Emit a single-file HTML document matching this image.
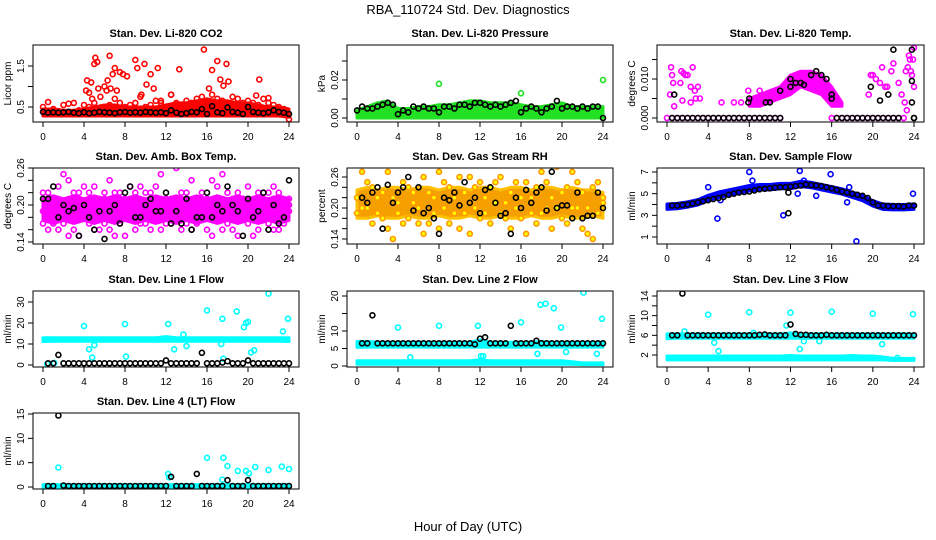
<!DOCTYPE html>
<html><head><meta charset="utf-8"><style>
html,body{margin:0;padding:0;background:#fff;width:936px;height:540px;overflow:hidden}
svg text{font-family:"Liberation Sans",Arial,sans-serif}
</style></head><body>
<svg id="c" width="936" height="540" viewBox="0 0 936 540" xmlns="http://www.w3.org/2000/svg">
<text x="468" y="14" text-anchor="middle" font-size="13">RBA_110724  Std. Dev. Diagnostics</text>
<text x="468" y="531" text-anchor="middle" font-size="13">Hour of Day (UTC)</text>
</svg>
<script>
const N=null;
const xTicks=[0,4,8,12,16,20,24];
// CO2
const co2BandLo=[0.28,0.28,0.28,0.28,0.28,0.28,0.28,0.28,0.28,0.28,0.28,0.28,0.28,0.28,0.28,0.28,0.28,0.28,0.28,0.28,0.28,0.28,0.28,0.28,0.25];
const co2BandHi=[0.45,0.45,0.42,0.42,0.45,0.5,0.55,0.55,0.5,0.5,0.5,0.5,0.55,0.6,0.6,0.65,0.7,0.65,0.65,0.6,0.6,0.55,0.5,0.5,0.45];
const co2Red=[0.5,0.62,0.45,0.4,0.55,0.58,0.6,0.42,0.55,0.5,0.6,0.45,0.5,0.55,0.7,0.6,0.5,0.55,0.6,0.75,0.5,0.55,0.65,0.6,0.5,0.8,0.6,0.55,0.65,0.6,0.7,0.75,0.65,0.8,0.7,0.65,0.6,0.75,0.7,0.6,0.65,0.6,0.55,0.7,0.6,0.55,0.5,0.45,0.2];
const co2OutX=[4.2,4.3,4.5,4.7,4.8,5.0,5.1,5.3,5.4,5.6,6.0,6.2,6.3,6.5,6.6,6.8,7.0,7.2,7.5,7.8,8.2,9.0,9.2,9.6,9.9,10.1,10.5,10.8,11.2,11.5,12.5,13.3,15.7,16.2,16.5,17.0,17.3,17.6,17.9,18.1,21.1,20.8,22.0];
const co2OutY=[0.9,1.15,0.85,1.1,0.7,1.55,1.7,1.6,0.95,0.75,1.0,0.9,1.15,1.75,0.95,1.3,1.45,0.9,1.35,1.3,1.25,1.65,1.45,0.8,1.55,1.05,1.3,0.95,1.45,0.65,0.8,1.42,1.9,0.95,1.4,1.62,1.17,1.02,1.55,1.12,1.17,0.78,0.72];
const co2Black=[0.38,0.36,0.37,0.36,0.37,0.38,0.36,0.35,0.37,0.35,0.36,0.38,0.37,0.36,0.35,0.37,0.38,0.36,0.37,0.36,0.38,0.37,0.36,0.37,0.35,0.42,0.36,0.33,0.35,0.38,0.37,0.45,0.33,0.52,0.37,0.35,0.49,0.38,0.36,0.33,0.5,0.38,0.36,0.35,0.37,0.42,0.38,0.36,0.33];
// Pressure
const presBandLo=[0,0,0,0,0,0,0,0,0,0,0,0,0,0,0,0,0,0,0,0,0,0,0,0,0];
const presBandHi=[0.004,0.006,0.008,0.009,0.005,0.005,0.006,0.006,0.007,0.007,0.008,0.009,0.009,0.008,0.008,0.008,0.007,0.006,0.006,0.007,0.008,0.006,0.006,0.006,0.006];
const presOutX=[8.2,8.0,16.0,24.0];
const presOutY=[0.042,0.018,0.013,0.020];
const presBlack=[0.004,0.006,0.005,0.005,0.006,0.007,0.008,0.007,0.002,0.004,0.003,0.006,0.005,0.006,0.005,0.005,0.003,0.006,0.006,0.005,0.007,0.007,0.006,0.008,0.008,0.007,0.006,0.007,0.006,0.007,0.008,0.009,0.003,0.005,0.006,0.005,0.003,0.005,0.006,0.009,0.005,0.006,0.006,0.005,0.006,0.005,0.006,0.006,0.000];
// Li-820 temp
const tmpZero=[0,0,0,0,0,0,0,0,0,0,0,0,0,0,0,0,0,0,0,0,0,0,0,N,N,N,N,N,N,N,N,N,0,0,0,0,0,0,0,0,0,0,0,0,0,0,0,N,N];
const tmpHumpLo=[N,N,N,N,N,N,N,N,0.003,0.003,0.004,0.005,0.006,0.008,0.007,0.006,0.003,0.003,N,N,N,N,N,N,N];
const tmpHumpHi=[N,N,N,N,N,N,N,N,0.005,0.006,0.007,0.008,0.011,0.012,0.012,0.011,0.008,0.004,N,N,N,N,N,N,N];
const tmpMagX=[0.3,0.4,0.5,0.6,0.7,1.3,1.4,1.6,1.8,2.0,2.3,2.5,2.7,2.8,3.0,3.2,2.3,1.5,5.3,6.5,7.2,7.9,9.0,19.6,19.8,20.0,20.3,20.7,20.9,21.2,21.4,21.8,22.0,22.5,22.8,23.1,23.3,23.4,23.5,23.6,23.7,23.8,23.9,24.0,24.0,23.2];
const tmpMagY=[0.006,0.013,0.011,0.009,0.003,0.009,0.012,0.0115,0.011,0.011,0.008,0.013,0.007,0.005,0.008,0.005,0.004,0.0045,0.004,0.004,0.004,0.007,0.007,0.006,0.011,0.011,0.01,0.009,0.013,0.008,0.008,0.012,0.014,0.009,0.006,0.004,0.002,0.013,0.016,0.015,0.012,0.011,0.015,0.018,0.008,0.012];
const tmpBlkX=[0.7,8.0,7.9,9.6,10.0,11.0,12.0,12.0,12.5,13.0,13.3,14.0,14.5,15.0,15.5,16.0,16.0,19.8,20.7,21.5,22.0,23.8,23.8,23.8,24];
const tmpBlkY=[0.006,0.005,0.004,0.004,0.004,0.007,0.008,0.010,0.009,0.009,0.0085,0.011,0.012,0.011,0.010,0.006,0.005,0.008,0.0045,0.006,0.0175,0.0175,0.0095,0.004,0];
const tmpBlkZero=[N,0,0,0,0,0,0,0,0,0,0,0,0,0,0,0,0,0,0,0,0,0,0,N,N,N,N,N,N,N,N,N,N,0,0,0,0,0,0,0,0,0,0,0,0,0,N,N,0];
// Amb box temp
const ambA=[0.19,0.22,0.18,0.23,0.17,0.24,0.16,0.21,0.2,0.17,0.23,0.16,0.22,0.19,0.18,0.22,0.15,0.21,0.2,0.23,0.17,0.22,0.19,0.25,0.17,0.21,0.2,0.16,0.22,0.24,0.19,0.18,0.21,0.2,0.23,0.16,0.22,0.19,0.18,0.21,0.17,0.2,0.22,0.18,0.19,0.23,0.16,0.2,0.19];
const ambB=[0.17,0.16,0.21,0.19,0.25,0.18,0.22,0.15,0.23,0.2,0.19,0.21,0.17,0.24,0.15,0.2,0.18,0.23,0.16,0.19,0.22,0.16,0.2,0.21,0.18,0.19,0.26,0.2,0.17,0.18,0.21,0.22,0.16,0.24,0.19,0.25,0.17,0.21,0.15,0.2,0.23,0.19,0.16,0.22,0.17,0.21,0.2,0.18,0.2];
const ambC=[0.22,0.2,0.17,0.16,0.2,0.15,0.19,0.22,0.18,0.22,0.16,0.2,0.21,0.16,0.22,0.17,0.21,0.19,0.22,0.17,0.2,0.18,0.23,0.16,0.21,0.17,0.19,0.22,0.2,0.16,0.17,0.2,0.19,0.15,0.21,0.2,0.18,0.16,0.22,0.18,0.2,0.15,0.21,0.19,0.22,0.16,0.22,0.17,0.21];
const ambBandLo=[0.175,0.17,0.175,0.17,0.175,0.17,0.175,0.17,0.175,0.17,0.175,0.17,0.175,0.17,0.175,0.17,0.175,0.17,0.175,0.17,0.175,0.17,0.175,0.17,0.175];
const ambBandHi=[0.21,0.215,0.21,0.215,0.21,0.215,0.21,0.215,0.21,0.215,0.21,0.215,0.21,0.215,0.21,0.215,0.21,0.215,0.21,0.215,0.21,0.215,0.21,0.215,0.21];
const ambBlack=[0.21,0.21,0.23,0.18,0.2,0.19,0.195,0.15,0.2,0.18,0.16,0.19,0.145,0.19,0.2,0.17,0.22,0.23,0.18,0.18,0.2,0.21,0.19,0.19,0.22,0.17,0.19,0.17,0.21,0.16,0.18,0.18,0.22,0.18,0.2,0.19,0.23,0.2,0.19,0.15,0.21,0.18,0.19,0.22,0.16,0.2,0.17,0.18,0.24];
// RH
const rhBandLo=[0.18,0.18,0.185,0.18,0.18,0.185,0.18,0.18,0.185,0.18,0.18,0.185,0.18,0.18,0.185,0.18,0.18,0.185,0.18,0.18,0.185,0.18,0.18,0.185,0.18];
const rhBandHi=[0.235,0.24,0.235,0.24,0.24,0.235,0.24,0.24,0.235,0.24,0.24,0.235,0.24,0.24,0.235,0.24,0.24,0.235,0.24,0.24,0.235,0.24,0.235,0.235,0.23];
const rhA=[0.22,0.27,0.2,0.24,0.19,0.23,0.27,0.14,0.21,0.25,0.18,0.23,0.2,0.26,0.17,0.22,0.27,0.2,0.24,0.19,0.16,0.23,0.26,0.2,0.25,0.19,0.24,0.21,0.26,0.18,0.23,0.2,0.22,0.25,0.19,0.24,0.27,0.2,0.22,0.28,0.18,0.24,0.27,0.2,0.23,0.15,0.24,0.19,0.22];
const rhB=[0.19,0.2,0.25,0.17,0.22,0.18,0.16,0.22,0.19,0.17,0.24,0.21,0.17,0.15,0.23,0.19,0.16,0.25,0.17,0.22,0.26,0.19,0.15,0.24,0.18,0.22,0.17,0.25,0.19,0.21,0.16,0.25,0.18,0.15,0.22,0.17,0.19,0.25,0.16,0.2,0.23,0.17,0.2,0.25,0.16,0.2,0.14,0.25,0.21];
const rhBlack=[N,0.22,0.21,0.23,0.24,0.16,0.245,0.21,0.23,0.24,0.26,0.195,0.24,0.19,0.2,0.18,0.15,0.22,0.215,0.23,0.205,0.25,0.21,0.22,0.19,0.235,0.24,0.21,0.185,0.19,0.15,0.22,0.2,0.235,0.21,0.23,0.24,0.195,0.27,0.2,0.205,0.205,0.18,0.23,0.18,0.185,0.185,0.23,0.2];
// Sample flow
const flowBandLo=[3.55,3.6,3.75,3.95,4.35,4.65,4.85,5.05,5.25,5.35,5.35,5.45,5.45,5.65,5.55,5.35,5.15,4.95,4.65,4.35,3.85,3.55,3.5,3.5,3.55];
const flowBandHi=[4.05,4.1,4.25,4.45,4.85,5.15,5.35,5.55,5.75,5.85,5.85,5.95,5.95,6.15,6.05,5.85,5.65,5.45,5.15,4.85,4.35,4.05,4.0,4.0,4.05];
const flowOutX=[4.0,4.9,8.0,8.3,11.3,12.9,15.9,18.4,23.9,17.5,17.7,13.3,14.5,5.2,12.7];
const flowOutY=[5.6,2.7,7.0,6.2,3.0,7.1,6.8,0.6,5.0,4.2,5.6,6.2,4.8,4.4,5.0];
const flowBlack=[N,3.9,3.9,3.95,4.0,4.1,4.2,4.3,4.4,4.5,4.6,4.7,4.9,5.0,5.1,5.15,5.2,5.3,5.4,5.45,5.5,5.55,5.6,5.6,5.65,5.7,5.75,5.85,5.8,5.75,5.7,5.6,5.5,5.35,5.2,5.1,5.0,4.9,4.8,4.6,4.2,3.9,3.9,3.85,3.85,3.85,3.8,3.9,3.9];
const flowBlkOutX=[11.8,11.8];
const flowBlkOutY=[3.2,5.1];
// Line 1
const l1BandLo=[11.2,11.3,11.3,11.3,11.3,11.3,11.3,11.3,11.3,11.3,11.3,11.3,11.3,11.3,11.3,11.3,11.3,11.3,11.3,11.3,11.3,11.3,11.3,11.3,11.2];
const l1BandHi=[13,13,13,13,13,13,13,13,13,13,13,13,13.5,13,13,13,13,13,13,13,13,13,13,13,13];
const l1OutX=[4.0,4.5,4.8,5.0,8.0,8.1,12.2,12.8,13.7,14.0,16.0,17.5,17.6,17.4,18.9,19.6,19.8,20.0,20.3,20.6,22.0,23.4,23.9,1.1,0.4];
const l1OutY=[18.5,7.5,3.5,9.5,19.5,4,19.5,7.5,14.5,9,26,22,3,10,25.5,18,20,20.5,6,7,34,16,22,1,0.5];
const l1Black=[N,0.8,0.8,4.8,0.8,0.8,0.8,0.8,0.8,0.8,0.8,0.8,0.8,0.8,0.8,0.8,0.8,0.8,0.8,0.8,0.8,0.8,0.8,0.8,2.2,0.8,0.8,0.8,0.8,0.8,0.8,5.8,0.8,0.8,0.8,1.2,1.8,0.8,0.8,0.8,2.2,0.8,0.8,0.8,0.8,0.8,0.8,0.8,0.8];
// Line 2
const l2BandLo=[5.3,5.4,5.4,5.4,5.4,5.4,5.4,5.4,5.4,5.4,5.4,5.4,5.4,5.4,5.4,5.4,5.4,5.4,5.4,5.4,5.4,5.4,5.4,5.4,5.4];
const l2BandHi=[7,7,6.8,6.8,6.8,6.8,6.8,6.8,6.8,6.8,6.8,6.8,7.5,6.8,6.8,6.8,6.8,6.8,7,6.8,6.8,6.8,6.8,6.8,6.8];
const l2LowLo=[0.5,0.5,0.5,0.5,0.5,0.5,0.5,0.5,0.5,0.5,0.5,0.5,0.5,0.5,0.5,0.5,0.5,0.5,0.5,0.5,0.5,0.5,0.4,0.4,0.4];
const l2LowHi=[1.5,1.5,1.5,1.5,1.5,1.5,1.5,1.5,1.5,1.5,1.5,1.5,1.8,1.5,1.5,1.5,1.5,1.5,1.5,1.5,1.5,1.2,0.9,0.9,0.9];
const l2OutX=[4.0,5.2,8.0,11.8,12.1,12.3,16.0,17.6,17.9,18.4,19.2,19.9,20.4,22.1,23.4,23.9,0.4];
const l2OutY=[11,2.5,11.5,11.5,2.8,2.8,12.5,3.5,17.5,17.8,16.5,11,4,21,3.5,13.5,6];
const l2Black=[N,6.5,6.5,14.5,6.5,6.5,6.5,6.5,6.5,6.5,6.5,6.5,6.5,6.5,6.5,6.5,6.5,6.5,6.5,6.5,6.5,6.5,6.5,6.2,7.8,8.2,6.5,6.5,6.5,6.5,11.5,6.5,6.5,6.5,6.5,7.2,6.5,6.5,6.5,6.5,6.5,6.5,6.5,6.5,6.5,6.5,6.5,6.5,6.5];
// Line 3
const l3BandLo=[5.3,5.4,5.4,5.4,5.4,5.4,5.4,5.4,5.4,5.4,5.4,5.4,5.4,5.4,5.4,5.4,5.4,5.4,5.4,5.4,5.4,5.4,5.4,5.4,5.4];
const l3BandHi=[6.3,6.3,6.3,6.3,6.3,6.3,6.3,6.3,6.3,6.3,6.3,6.3,6.5,6.3,6.3,6.3,6.3,6.3,6.3,6.3,6.3,6.3,6.3,6.3,6.3];
const l3LowLo=[1.0,1.0,1.0,1.0,1.0,1.0,1.0,1.0,1.0,1.0,1.0,1.0,1.0,1.0,1.0,1.0,1.0,1.0,1.0,1.0,1.0,1.0,0.9,0.9,0.9];
const l3LowHi=[1.8,1.8,1.8,1.8,1.8,1.8,1.8,1.8,1.8,1.8,1.8,1.8,1.9,1.8,1.8,1.8,1.8,1.8,1.9,1.8,1.8,1.6,1.3,1.3,1.3];
const l3OutX=[1.7,4.0,4.6,5.0,8.0,8.4,11.6,12.0,12.9,13.3,16.0,20.0,20.9,22.4,23.9,14.8];
const l3OutY=[6.8,10.2,4.5,2.8,10.7,6.5,8,10.6,3.2,4.8,10.8,10.4,4.2,1.4,10.3,4.8];
const l3Black=[N,6.0,6.0,14.5,6.0,6.0,6.0,6.0,6.0,6.0,6.0,6.0,6.0,6.0,6.0,6.0,6.0,6.0,6.1,6.2,6.0,6.0,6.0,6.0,8.2,6.3,6.1,6.1,6.0,6.0,6.0,6.1,6.0,6.0,6.0,6.0,6.0,6.0,6.0,6.0,6.0,6.0,6.0,6.0,6.0,6.0,6.0,6.0,6.0];
// Line 4
const l4BandLo=[-0.3,-0.3,-0.3,-0.3,-0.3,-0.3,-0.3,-0.3,-0.3,-0.3,-0.3,-0.3,-0.3,-0.3,-0.3,-0.3,-0.3,-0.3,-0.3,-0.3,-0.3,-0.3,-0.3,-0.3,-0.3];
const l4BandHi=[0.5,0.5,0.5,0.5,0.5,0.5,0.5,0.5,0.5,0.5,0.5,0.5,0.5,0.5,0.5,0.5,0.5,0.5,0.5,0.5,0.5,0.5,0.5,0.5,0.5];
const l4OutX=[1.5,12.2,12.3,16.0,17.6,17.5,18.0,19.0,19.8,20.1,20.7,22.0,23.3,24.0];
const l4OutY=[4,2.7,2,6,6,1.5,4.3,3.3,3.3,2.8,4.1,3.5,4.2,3.7];
const l4Black=[N,0.2,0.2,14.7,0.3,0.2,0.2,0.2,0.2,0.2,0.2,0.2,0.2,0.2,0.2,0.2,0.2,0.2,0.2,0.2,0.2,0.2,0.2,0.2,0.2,2.1,0.2,0.2,0.2,0.2,2.7,0.2,0.2,0.2,0.2,0.2,1.4,0.2,0.2,0.2,1.4,0.2,0.2,0.2,0.2,0.2,0.2,0.2,0.2];

const svg=document.getElementById('c');
const NS='http://www.w3.org/2000/svg';
function el(tag,attrs,parent){const e=document.createElementNS(NS,tag);for(const k in attrs)e.setAttribute(k,attrs[k]);(parent||svg).appendChild(e);return e;}

function panel(cfg){
  const g=el('g',{});
  
  
  const X=v=>cfg.x0+v*(cfg.x24-cfg.x0)/24;
  const Y=v=>cfg.p0+(v-cfg.v0)*(cfg.p1-cfg.p0)/(cfg.v1-cfg.v0);
  const left=cfg.x0-10,right=cfg.x24+10;
  const clip='cl'+cfg.name;
  const cp=el('clipPath',{id:clip},g);el('rect',{x:left,y:cfg.top,width:right-left,height:cfg.bot-cfg.top},cp);
  const data=el('g',{'clip-path':'url(#'+clip+')'},g);
  const gx=n=>i=>i*24/(n-1);
  cfg.series.forEach(s=>{
    if(s.lo){
      const n=s.lo.length,f=gx(n);let top=[],bot=[];
      const flush=()=>{if(top.length){const pts=top.concat(bot.reverse()).join(' ');
        const p=el('polygon',{points:pts,fill:s.fill,stroke:s.color,'stroke-width':3,'stroke-linejoin':'round'},data);
        
        }top=[];bot=[];};
      for(let i=0;i<n;i++){if(s.lo[i]===null){flush();continue;}top.push(X(f(i)).toFixed(1)+','+Y(s.hi[i]).toFixed(1));bot.push(X(f(i)).toFixed(1)+','+Y(s.lo[i]).toFixed(1));}
      flush();
    } else {
      const ys=s.y,xs=s.x||ys.map((_,i)=>gx(ys.length)(i));
      for(let i=0;i<ys.length;i++){if(ys[i]===null)continue;
        const c=el('circle',{cx:X(xs[i]).toFixed(1),cy:Y(ys[i]).toFixed(1),r:2.5,fill:s.fill||'none',stroke:s.color,'stroke-width':1.6},data);
        
        }
    }
  });
  el('rect',{x:left,y:cfg.top,width:right-left,height:cfg.bot-cfg.top,fill:'none',stroke:'#000','stroke-width':1},g);
  const t=el('text',{x:(left+right)/2,y:cfg.top-8,'text-anchor':'middle','font-size':11,'font-weight':'bold'},g);t.textContent=cfg.title;
  
  
  xTicks.forEach(v=>{el('line',{x1:X(v),x2:X(v),y1:cfg.bot,y2:cfg.bot+5,stroke:'#000'},g);
    const l=el('text',{x:X(v),y:cfg.bot+18,'text-anchor':'middle','font-size':10},g);l.textContent=v;
    
    });
  cfg.yTicks.forEach(v=>{const y=Y(v);el('line',{x1:left,x2:left-5,y1:y,y2:y,stroke:'#000'},g);});
  cfg.yLabels.forEach(v=>{const y=Y(v);const l=el('text',{x:left-9,y:y,'text-anchor':'middle','font-size':10,transform:'rotate(-90 '+(left-9)+' '+y+')'},g);l.textContent=v;
    
    });
  const yt=el('text',{x:left-22,y:(cfg.top+cfg.bot)/2,'text-anchor':'middle','font-size':10,transform:'rotate(-90 '+(left-22)+' '+(cfg.top+cfg.bot)/2+')'},g);yt.textContent=cfg.ylab;
  
  
}
const C=[[43,289],[357,603],[667,914]];
const R=[[45,122],[168,244],[291,367],[413,489]];
const red='#ff0000',grn='#22e022',mag='#ff00ff',blu='#0000ff',cyn='#00ffff',blk='#000';
panel({name:'co2-panel',title:'Stan. Dev. Li-820 CO2',ylab:'Licor ppm',x0:C[0][0],x24:C[0][1],top:R[0][0],bot:R[0][1],v0:0.5,p0:107,v1:1.5,p1:66,yTicks:[0.5,1,1.5],yLabels:['0.5','1.5'],
 series:[{lo:co2BandLo,hi:co2BandHi,color:red,fill:red},{y:co2Red,color:red},{x:co2OutX,y:co2OutY,color:red},{y:co2Black,color:blk}]});
panel({name:'pressure-panel',title:'Stan. Dev. Li-820 Pressure',ylab:'kPa',x0:C[1][0],x24:C[1][1],top:R[0][0],bot:R[0][1],v0:0,p0:118,v1:0.02,p1:80,yTicks:[0,0.01,0.02,0.03],yLabels:['0.00','0.02'],
 series:[{lo:presBandLo,hi:presBandHi,color:grn,fill:grn},{x:presOutX,y:presOutY,color:grn},{y:presBlack,color:blk}]});
panel({name:'li820-temp-panel',title:'Stan. Dev. Li-820 Temp.',ylab:'degrees C',x0:C[2][0],x24:C[2][1],top:R[0][0],bot:R[0][1],v0:0,p0:118,v1:0.01,p1:79,yTicks:[0,0.005,0.01,0.015],yLabels:['0.000','0.010'],
 series:[{y:tmpZero,color:mag},{lo:tmpHumpLo,hi:tmpHumpHi,color:mag,fill:mag},{x:tmpMagX,y:tmpMagY,color:mag},{y:tmpBlkZero,color:blk},{x:tmpBlkX,y:tmpBlkY,color:blk}]});
panel({name:'amb-box-temp-panel',title:'Stan. Dev. Amb. Box Temp.',ylab:'degrees C',x0:C[0][0],x24:C[0][1],top:R[1][0],bot:R[1][1],v0:0.14,p0:242,v1:0.26,p1:168,yTicks:[0.14,0.16,0.18,0.2,0.22,0.24,0.26],yLabels:['0.14','0.20','0.26'],
 series:[{lo:ambBandLo,hi:ambBandHi,color:mag,fill:mag},{y:ambA,color:mag},{y:ambB,color:mag},{y:ambC,color:mag},{y:ambBlack,color:blk}]});
panel({name:'gas-rh-panel',title:'Stan. Dev. Gas Stream RH',ylab:'percent',x0:C[1][0],x24:C[1][1],top:R[1][0],bot:R[1][1],v0:0.14,p0:239,v1:0.26,p1:177,yTicks:[0.14,0.16,0.18,0.2,0.22,0.24,0.26],yLabels:['0.14','0.20','0.26'],
 series:[{lo:rhBandLo,hi:rhBandHi,color:'#ffc000',fill:'#f5a000'},{y:rhA,color:'#ff9900',fill:'#ffff00'},{y:rhB,color:'#ff9900',fill:'#ffff00'},{y:rhBlack,color:blk}]});
panel({name:'sample-flow-panel',title:'Stan. Dev. Sample Flow',ylab:'ml/min',x0:C[2][0],x24:C[2][1],top:R[1][0],bot:R[1][1],v0:1,p0:237,v1:7,p1:172,yTicks:[1,2,3,4,5,6,7],yLabels:['1','3','5','7'],
 series:[{lo:flowBandLo,hi:flowBandHi,color:blu,fill:blu},{x:flowOutX,y:flowOutY,color:blu},{y:flowBlack,color:blk},{x:flowBlkOutX,y:flowBlkOutY,color:blk}]});
panel({name:'line1-flow-panel',title:'Stan. Dev. Line 1 Flow',ylab:'ml/min',x0:C[0][0],x24:C[0][1],top:R[2][0],bot:R[2][1],v0:0,p0:365,v1:30,p1:302,yTicks:[0,10,20,30],yLabels:['0','10','20','30'],
 series:[{lo:l1BandLo,hi:l1BandHi,color:cyn,fill:cyn},{x:l1OutX,y:l1OutY,color:cyn},{y:l1Black,color:blk}]});
panel({name:'line2-flow-panel',title:'Stan. Dev. Line 2 Flow',ylab:'ml/min',x0:C[1][0],x24:C[1][1],top:R[2][0],bot:R[2][1],v0:0,p0:366,v1:20,p1:296,yTicks:[0,5,10,15,20],yLabels:['0','5','10','20'],
 series:[{lo:l2BandLo,hi:l2BandHi,color:cyn,fill:cyn},{lo:l2LowLo,hi:l2LowHi,color:cyn,fill:cyn},{x:l2OutX,y:l2OutY,color:cyn},{y:l2Black,color:blk}]});
panel({name:'line3-flow-panel',title:'Stan. Dev. Line 3 Flow',ylab:'ml/min',x0:C[2][0],x24:C[2][1],top:R[2][0],bot:R[2][1],v0:2,p0:355,v1:14,p1:296,yTicks:[2,4,6,8,10,12,14],yLabels:['2','6','10','14'],
 series:[{lo:l3BandLo,hi:l3BandHi,color:cyn,fill:cyn},{lo:l3LowLo,hi:l3LowHi,color:cyn,fill:cyn},{x:l3OutX,y:l3OutY,color:cyn},{y:l3Black,color:blk}]});
panel({name:'line4-flow-panel',title:'Stan. Dev. Line 4 (LT) Flow',ylab:'ml/min',x0:C[0][0],x24:C[0][1],top:R[3][0],bot:R[3][1],v0:0,p0:487,v1:15,p1:414,yTicks:[0,5,10,15],yLabels:['0','5','10','15'],
 series:[{lo:l4BandLo,hi:l4BandHi,color:cyn,fill:cyn},{x:l4OutX,y:l4OutY,color:cyn},{y:l4Black,color:blk}]});
</script>
</body></html>
